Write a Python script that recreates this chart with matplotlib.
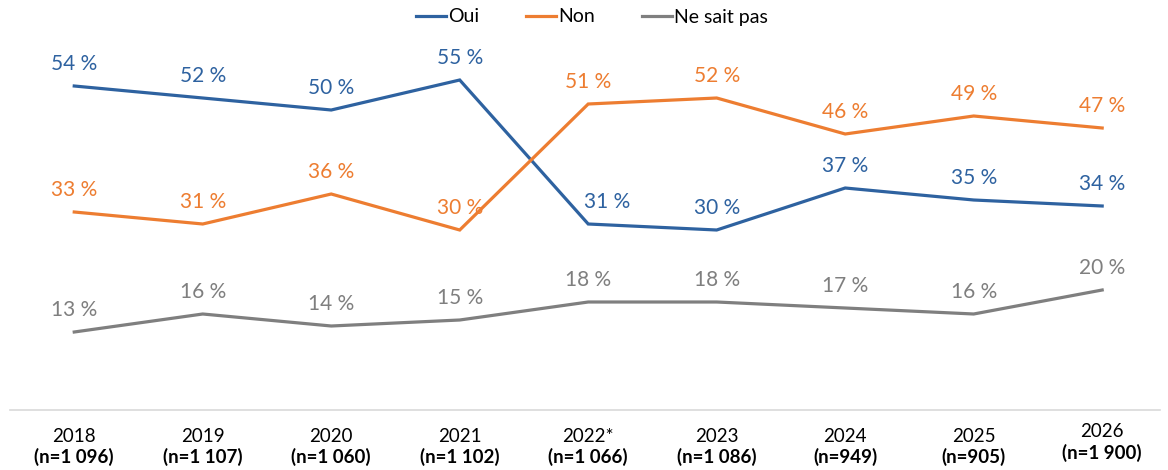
import matplotlib
matplotlib.use("Agg")
import matplotlib.pyplot as plt
from matplotlib.lines import Line2D

years = ["2018", "2019", "2020", "2021", "2022*", "2023", "2024", "2025", "2026"]
sizes = ["(n=1 096)", "(n=1 107)", "(n=1 060)", "(n=1 102)", "(n=1 066)",
         "(n=1 086)", "(n=949)", "(n=905)", "(n=1 900)"]
oui = [54, 52, 50, 55, 31, 30, 37, 35, 34]
non = [33, 31, 36, 30, 51, 52, 46, 49, 47]
nsp = [13, 16, 14, 15, 18, 18, 17, 16, 20]
series_names = ["Oui", "Non", "Ne sait pas"]

colors = ["#2E62A0", "#ED7D31", "#7F7F7F"]
FONT = "Lato"

W, H = 1168, 470
fig = plt.figure(figsize=(W / 100, H / 100), dpi=100)
ax = fig.add_axes([10 / W, (H - 410) / H, (1160 - 10) / W, 360 / H])
x = list(range(len(years)))
ax.set_xlim(-0.5, len(years) - 0.5 - 0.05)
ax.set_ylim(0, 60)

label_dx = {(0, 4): 0.15}
for si, (vals, c) in enumerate(zip([oui, non, nsp], colors)):
    ax.plot(x, vals, color=c, lw=2.3, solid_joinstyle="miter")
    for i, v in enumerate(vals):
        dx = label_dx.get((si, i), 0)
        ax.annotate(f"{v} %", (i + dx, v), xytext=(0, 16), textcoords="offset points",
                    ha="center", va="center", color=c, fontsize=15, family=FONT,
                    annotation_clip=False)

for s in ["top", "right", "left"]:
    ax.spines[s].set_visible(False)
ax.spines["bottom"].set_color("#D9D9D9")
ax.spines["bottom"].set_linewidth(1.2)
ax.set_yticks([])
ax.set_xticks(x)
ax.set_xticklabels([])
ax.tick_params(axis="x", length=0)
for i, (yr, n) in enumerate(zip(years, sizes)):
    dy = 0.8 if i == len(years) - 1 else 0.0
    ax.text(i, -4.4 + dy, yr, ha="center", va="center", fontsize=13.5, family=FONT, color="#000000")
    ax.text(i, -7.9 + dy, n, ha="center", va="center", fontsize=13.5, family=FONT,
            fontweight="bold", color="#000000")

handles = [Line2D([0], [0], color=c, lw=2.3) for c in colors]
fig.legend(handles, series_names, loc="center", bbox_to_anchor=(592 / W, 1 - 17 / H),
           ncol=3, frameon=False, prop={"family": FONT, "size": 14},
           handlelength=1.55, handletextpad=0.12, columnspacing=2.4)

fig.savefig("out.png", dpi=100)
